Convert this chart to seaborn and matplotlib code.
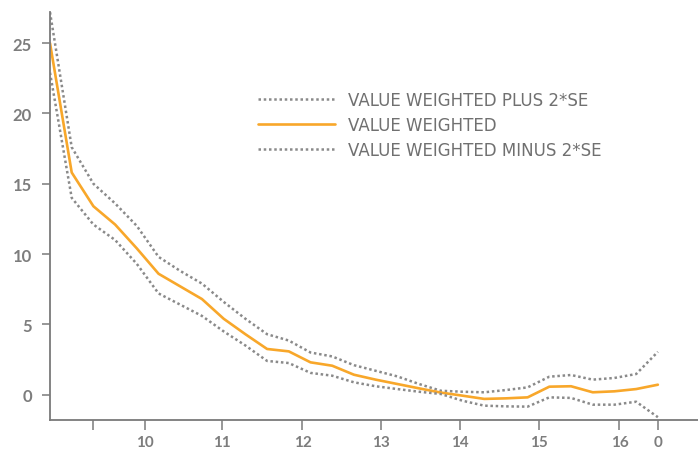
import numpy as np
import pandas as pd
import matplotlib
matplotlib.use("Agg")
import matplotlib.pyplot as plt
import seaborn as sns

# ---- data ----
period = list(range(29))
value_weighted = [25.0, 15.8, 13.4, 12.1, 10.4, 8.6, 7.7, 6.8, 5.4, 4.3, 3.25, 3.08, 2.3, 2.06,
                  1.42, 1.07, 0.76, 0.45, 0.15, -0.07, -0.3, -0.26, -0.19, 0.57, 0.6, 0.17, 0.24, 0.4, 0.71]
plus_2se = [27.2, 17.6, 15.0, 13.6, 12.0, 9.8, 8.8, 7.9, 6.6, 5.4, 4.3, 3.85, 3.0, 2.72,
            2.1, 1.7, 1.3, 0.76, 0.28, 0.21, 0.17, 0.33, 0.52, 1.28, 1.4, 1.07, 1.19, 1.47, 3.05]
minus_2se = [22.9, 14.0, 12.1, 11.0, 9.3, 7.2, 6.4, 5.6, 4.5, 3.5, 2.4, 2.25, 1.55, 1.35,
             0.88, 0.6, 0.4, 0.21, 0.05, -0.43, -0.78, -0.83, -0.85, -0.19, -0.23, -0.71, -0.71, -0.5, -1.6]
x_tick_pos = [1.96, 4.38, 7.92, 11.63, 15.25, 18.89, 22.52, 26.23, 28.0]
x_tick_labels = ["", "10", "11", "12", "13", "14", "15", "16", "0"]
y_ticks = [0, 5, 10, 15, 20, 25]

df = pd.DataFrame({"period": period, "vw": value_weighted, "plus": plus_2se, "minus": minus_2se})

sns.set_style("white")
plt.rcParams["font.family"] = ["Lato", "DejaVu Sans"]

W, H = 698, 452
fig = plt.figure(figsize=(W / 100, H / 100), dpi=100)
ax = fig.add_axes([50 / W, 31 / H, (W - 50) / W, (421 - 12.5) / H])

gray_dot = "#8a8a8a"
orange = "#F8A72A"
dot_style = (0, (1, 1.1))

sns.lineplot(data=df, x="period", y="plus", ax=ax, color=gray_dot, lw=1.8,
             linestyle=dot_style, label="VALUE WEIGHTED PLUS 2*SE")
sns.lineplot(data=df, x="period", y="vw", ax=ax, color=orange, lw=1.9,
             label="VALUE WEIGHTED")
sns.lineplot(data=df, x="period", y="minus", ax=ax, color=gray_dot, lw=1.8,
             linestyle=dot_style, label="VALUE WEIGHTED MINUS 2*SE")

ax.set_xlim(0, (W - 50) / 21.71)
ax.set_ylim(-1.8, 27.25)
ax.set_xticks(x_tick_pos)
ax.set_xticklabels(x_tick_labels)
ax.set_yticks(y_ticks)
ax.set_xlabel("")
ax.set_ylabel("")

for s in ["top", "right"]:
    ax.spines[s].set_visible(False)
for s in ["left", "bottom"]:
    ax.spines[s].set_color("#7a7a7a")
    ax.spines[s].set_linewidth(1.3)

tick_color = "#7a7a7a"
ax.tick_params(axis="x", direction="out", length=7, width=1.1, color=tick_color,
               labelcolor="#7d7d7d", labelsize=11, pad=4, bottom=True)
ax.tick_params(axis="y", direction="out", length=6, width=1.1, color=tick_color,
               labelcolor="#7d7d7d", labelsize=12, pad=7, left=True)
for lab in ax.get_xticklabels() + ax.get_yticklabels():
    lab.set_fontweight("bold")

fs = 12
fs_px = fs * 100 / 72
leg = ax.legend(loc="upper left", bbox_to_anchor=(258 / W, 1 - 92 / H),
                bbox_transform=fig.transFigure, frameon=False,
                prop={"family": "DejaVu Sans", "size": fs},
                handlelength=77 / fs_px, handletextpad=13 / fs_px,
                labelspacing=0.42, borderpad=0, borderaxespad=0)
for t in leg.get_texts():
    t.set_color("#707070")

fig.savefig("out.png", dpi=100)
